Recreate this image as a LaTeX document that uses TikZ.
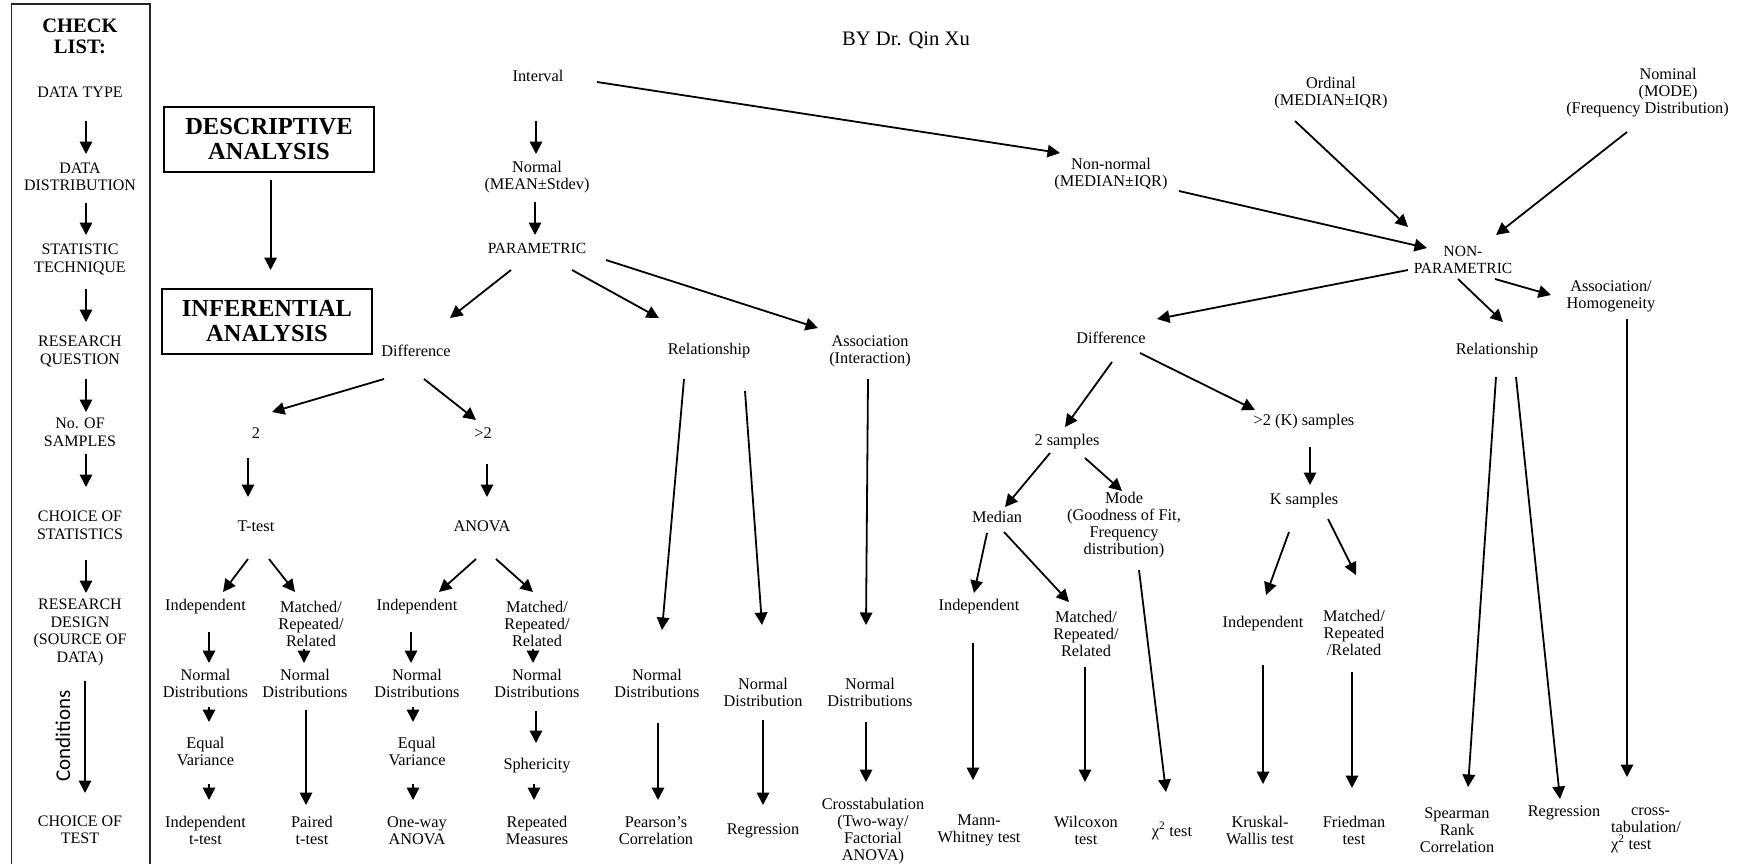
\documentclass[tikz,border=0pt]{standalone}
\usepackage{fontspec}
\setmainfont{Liberation Serif}
\newfontfamily\labelsans{Carlito}
\usetikzlibrary{arrows.meta,calc}

% connector between two named nodes; each end is an offset from the node centre
\newcommand{\arrowfrom}[6]{\draw[arr] ($(#1)+(#2,#3)$) -- ($(#4)+(#5,#6)$);}

\begin{document}
\begin{tikzpicture}[x=1pt,y=-1pt,
  arr/.style={line width=1.8pt,-{Triangle[length=12.5pt,width=12.5pt]}},
  lbl/.style={font=\fontsize{16.3}{17}\selectfont,align=center,inner sep=0pt},
  plbl/.style={font=\fontsize{15.5}{17}\selectfont,align=center,inner sep=0pt},
  chk/.style={font=\fontsize{16}{17.5}\selectfont,align=center,inner sep=0pt},
  chkhead/.style={font=\fontsize{20.5}{21.5}\selectfont\bfseries,align=center,inner sep=0pt},
  bigbox/.style={draw,line width=1.5pt,minimum width=210pt,minimum height=65pt,
    font=\fontsize{24.5}{25}\selectfont\bfseries,align=center,inner sep=0pt},
  colframe/.style={draw=black!85,line width=1.6pt}]
\useasboundingbox (0,0) rectangle (1739,863);

% ---------- check list column ----------
\draw[colframe] (11.5,870) -- (11.5,4) -- (150,4) -- (150,870);
\node[chkhead] (ck0) at (80,36.5) {CHECK\\LIST:};
\node[chk] (ck1) at (80,92) {DATA TYPE};
\node[chk] (ck2) at (80,177) {DATA\\DISTRIBUTION};
\node[chk] (ck3) at (80,259.5) {STATISTIC\\TECHNIQUE};
\node[chk] (ck4) at (80,351.5) {RESEARCH\\QUESTION};
\node[chk] (ck5) at (80,432.5) {No. OF\\SAMPLES};
\node[chk] (ck6) at (80,525.5) {CHOICE OF\\STATISTICS};
\node[chk] (ck7) at (80,632.5) {RESEARCH\\DESIGN\\(SOURCE OF\\DATA)};
\node[chk] (ck8) at (80,830) {CHOICE OF\\TEST};
\node[font=\labelsans\fontsize{21}{21}\selectfont,rotate=90,inner sep=0pt] (cond) at (63,736) {Conditions};

\arrowfrom{ck1}{6}{29}{ck2}{6}{-23}
\arrowfrom{ck2}{6}{26}{ck3}{6}{-24.5}
\arrowfrom{ck3}{6}{29.5}{ck4}{6}{-29.5}
\arrowfrom{ck4}{6}{27.5}{ck5}{6}{-20.5}
\arrowfrom{ck5}{6}{21.5}{ck6}{6}{-38.5}
\arrowfrom{ck6}{6}{34.5}{ck7}{6}{-39.5}
\arrowfrom{ck7}{5}{48.5}{ck8}{5}{-37}

% ---------- heading boxes ----------
\node[font=\fontsize{20.6}{22}\selectfont,inner sep=0pt] (title) at (906,40) {BY Dr. Qin Xu};
\node[bigbox] (desc) at (269,139.5) {DESCRIPTIVE\\ANALYSIS};
\node[bigbox] (inf) at (267,321.5) {INFERENTIAL\\ANALYSIS};
\arrowfrom{desc}{1.6}{40.5}{inf}{3.6}{-51.5}

% ---------- data type and distribution ----------
\node[lbl] (interval) at (538,76) {Interval};
\node[lbl] (normal) at (537,177.5) {Normal\\(MEAN±Stdev)};
\node[plbl] (param) at (537,248) {PARAMETRIC};
\node[lbl] (nonnormal) at (1111,174.5) {Non-normal\\(MEDIAN±IQR)};
\node[lbl] (ordinal) at (1331,93) {Ordinal\\(MEDIAN±IQR)};
\node[lbl] (nominal) at (1668,93) {Nominal\\(MODE)\\\hspace*{-41pt}(Frequency Distribution)};
\node[plbl] (npar) at (1463,259.5) {NON-\\PARAMETRIC};

\arrowfrom{interval}{-2}{45}{normal}{-1}{-23.5}
\arrowfrom{normal}{-2}{24.5}{param}{-2}{-13}
\arrowfrom{interval}{59}{6}{nonnormal}{-51}{-21.5}
\arrowfrom{nonnormal}{68}{16.5}{npar}{-36}{-11.5}
\arrowfrom{ordinal}{-36}{28}{npar}{-55}{-32.5}
\arrowfrom{nominal}{-41}{39}{npar}{33}{-24.5}

% ---------- parametric branch ----------
\node[lbl] (pdiff) at (416,351) {Difference};
\node[lbl] (prel) at (709,351) {Relationship};
\node[lbl] (passoc) at (870,351.5) {Association\\(Interaction)};
\node[lbl] (two) at (256,433) {2};
\node[lbl] (gt2) at (483,433) {>2};
\node[lbl] (ttest) at (256,526) {T-test};
\node[lbl] (anova) at (482,526) {ANOVA};
\node[lbl] (ind1) at (205.5,607) {Independent};
\node[lbl] (mat1) at (311,624) {Matched/\\Repeated/\\Related};
\node[lbl] (ind2) at (417,607) {Independent};
\node[lbl] (mat2) at (537,624) {Matched/\\Repeated/\\Related};
\node[lbl] (nd1) at (205.5,683.5) {Normal\\Distributions};
\node[lbl] (nd2) at (305,683.5) {Normal\\Distributions};
\node[lbl] (nd3) at (417,683.5) {Normal\\Distributions};
\node[lbl] (nd4) at (537,683.5) {Normal\\Distributions};
\node[lbl] (ev1) at (205.5,751.5) {Equal\\Variance};
\node[lbl] (ev2) at (417,751.5) {Equal\\Variance};
\node[lbl] (sph) at (537,766) {Sphericity};
\node[lbl] (nd5) at (657,683.5) {Normal\\Distributions};
\node[lbl] (nd6) at (763,692.5) {Normal\\Distribution};
\node[lbl] (nd7) at (870,692.5) {Normal\\Distributions};
\node[lbl] (t1) at (205.5,830.5) {Independent\\t-test};
\node[lbl] (t2) at (312,830.5) {Paired\\t-test};
\node[lbl] (t3) at (417,830.5) {One-way\\ANOVA};
\node[lbl] (t4) at (537,830.5) {Repeated\\Measures};
\node[lbl] (t5) at (656,830.5) {Pearson’s\\Correlation};
\node[lbl] (t6) at (763,831) {Regression};
\node[lbl] (t7) at (873,831) {Crosstabulation\\(Two-way/\\Factorial\\ANOVA)};

\arrowfrom{param}{-26}{22}{pdiff}{34}{-33}
\arrowfrom{param}{35}{22}{prel}{-50}{-33}
\arrowfrom{param}{69}{12}{passoc}{-52}{-23.5}
\arrowfrom{pdiff}{-32}{28}{two}{16}{-21}
\arrowfrom{pdiff}{8}{28}{gt2}{-7}{-13}
\arrowfrom{two}{-8}{25}{ttest}{-8}{-29}
\arrowfrom{gt2}{4}{31}{anova}{5}{-29}
\arrowfrom{ttest}{-8}{33}{ind1}{17.5}{-15}
\arrowfrom{ttest}{13}{33}{mat1}{-16}{-32}
\arrowfrom{anova}{-6}{33}{ind2}{22}{-15}
\arrowfrom{anova}{14}{33}{mat2}{-4}{-32}
\arrowfrom{ind1}{3.5}{25}{nd1}{3.5}{-20.5}
\arrowfrom{mat1}{-7}{25}{nd2}{-1}{-20.5}
\arrowfrom{ind2}{-6}{25}{nd3}{-6}{-20.5}
\arrowfrom{mat2}{-4}{25}{nd4}{-4}{-20.5}
\arrowfrom{nd1}{3.5}{23.5}{ev1}{3.5}{-29.5}
\arrowfrom{nd2}{1}{26.5}{t2}{-6}{-25.5}
\arrowfrom{nd3}{-4}{23.5}{ev2}{-4}{-29.5}
\arrowfrom{nd4}{-1}{27.5}{sph}{-1}{-23}
\arrowfrom{ev1}{3.5}{32.5}{t1}{3.5}{-30.5}
\arrowfrom{ev2}{-4}{32.5}{t3}{-4}{-30.5}
\arrowfrom{sph}{-3}{18}{t4}{-3}{-30.5}
\arrowfrom{prel}{-25}{28}{nd5}{5}{-53.5}
\arrowfrom{prel}{36}{40}{nd6}{-1}{-67.5}
\arrowfrom{passoc}{-2}{27.5}{nd7}{-4}{-67.5}
\arrowfrom{nd5}{1}{39.5}{t5}{2}{-30.5}
\arrowfrom{nd6}{0}{27.5}{t6}{0}{-26}
\arrowfrom{nd7}{-4}{29.5}{t7}{-7}{-49}

% ---------- non-parametric branch ----------
\node[lbl] (ndiff) at (1111,338) {Difference};
\node[lbl] (twos) at (1067,442) {2 samples};
\node[lbl] (gtk) at (1304,422) {>2 (K) samples};
\node[lbl] (ks) at (1304,501) {K samples};
\node[lbl] (median) at (997,517) {Median};
\node[lbl] (mode) at (1124,525.5) {Mode\\(Goodness of Fit,\\Frequency\\distribution)};
\node[lbl] (nind) at (979,607) {Independent};
\node[lbl] (nmat) at (1086,634) {Matched/\\Repeated/\\Related};
\node[lbl] (kind) at (1263,624) {Independent};
\node[lbl] (kmat) at (1354,633) {Matched/\\Repeated\\/Related};
\node[lbl] (nrel) at (1497,351) {Relationship};
\node[lbl] (nass) at (1611,296) {Association/\\Homogeneity};
\node[lbl] (t8) at (979,830.5) {Mann-\\Whitney test};
\node[lbl] (t9) at (1086,830.5) {Wilcoxon\\test};
\node[lbl] (t10) at (1172,831) {χ\textsuperscript{2} test};
\node[lbl] (t11) at (1260,830.5) {Kruskal-\\Wallis test};
\node[lbl] (t12) at (1354,830.5) {Friedman\\test};
\node[lbl] (t13) at (1457,830) {Spearman\\Rank\\Correlation};
\node[lbl] (t14) at (1564,813) {Regression};
\node[lbl,align=left] (t15) at (1646,830) {\hspace*{20pt}cross-\\tabulation/\\χ\textsuperscript{2} test};

\arrowfrom{npar}{-55}{10.5}{ndiff}{46}{-19}
\arrowfrom{npar}{-5}{19.5}{nrel}{6}{-29}
\arrowfrom{npar}{32}{19.5}{nass}{-60}{-1}
\arrowfrom{ndiff}{1}{24}{twos}{-2}{-15}
\arrowfrom{ndiff}{29}{15}{gtk}{-49}{-12}
\arrowfrom{twos}{-17}{11}{median}{8}{-10}
\arrowfrom{twos}{18}{16}{mode}{-2}{-34.5}
\arrowfrom{median}{-10}{16}{nind}{-5}{-14}
\arrowfrom{median}{7}{15}{nmat}{-17}{-32}
\arrowfrom{mode}{15}{44.5}{t10}{-6}{-39}
\arrowfrom{gtk}{6}{25}{ks}{6}{-16}
\arrowfrom{ks}{-15}{31}{kind}{3}{-29}
\arrowfrom{ks}{24}{18}{kmat}{2}{-58}
\arrowfrom{nind}{-6}{36}{t8}{-6}{-50.5}
\arrowfrom{nmat}{-1}{33}{t9}{-1}{-48.5}
\arrowfrom{kind}{0}{41}{t11}{3}{-46.5}
\arrowfrom{kmat}{-2}{39}{t12}{-2}{-42.5}
\arrowfrom{nrel}{-1}{26}{t13}{11}{-43}
\arrowfrom{nrel}{19}{26}{t14}{-4}{-14}
\arrowfrom{nass}{16}{23}{t15}{-19}{-53}
\end{tikzpicture}
\end{document}
